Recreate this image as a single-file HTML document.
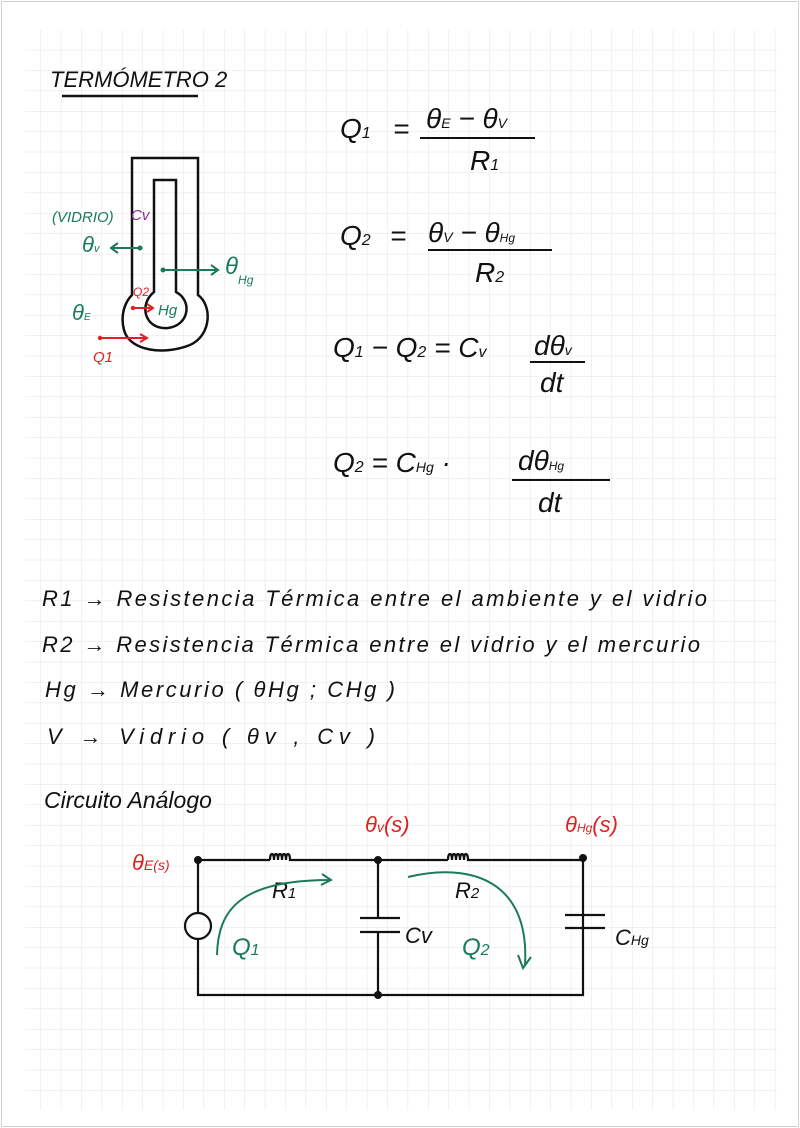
<!DOCTYPE html>
<html><head><meta charset="utf-8"><style>
body{margin:0;background:#fff}
svg{display:block}
text{font-family:"Liberation Sans",sans-serif}
</style></head><body>
<svg width="800" height="1128" viewBox="0 0 800 1128">
<defs>
<pattern id="g" x="20" y="9" width="20.4" height="20.4" patternUnits="userSpaceOnUse">
<path d="M0 0H20.4M0 0V20.4" stroke="#e3e3e3" stroke-width="1" fill="none"/>
</pattern>
</defs>
<rect x="0" y="0" width="800" height="1128" fill="#fff"/>
<rect x="1.5" y="1.5" width="797" height="1125" fill="none" stroke="#cfcfcf"/>
<rect x="25" y="30" width="752" height="1080" fill="url(#g)"/>
<g fill="#111" font-style="italic">
<text x="50" y="87" font-size="22">TERMÓMETRO 2</text>
<line x1="62" y1="96" x2="198" y2="96" stroke="#111" stroke-width="2.5"/>
</g>
<g fill="none" stroke="#111" stroke-width="2.5">
<path d="M132 295V158H198V295C212 305 212 335 190 345C165 355 130 352 124 330C120 315 125 302 132 295Z"/>
<path d="M154 292V180H176V292C192 300 190 325 168 328C145 330 138 305 154 292Z"/>
</g>
<g font-style="italic">
<text x="52" y="222" font-size="15" fill="#1a7a5a">(VIDRIO)</text>
<text x="131" y="220" font-size="15" fill="#8a2b9a">Cv</text>
<text x="82" y="252" font-size="22" fill="#1a7a5a">θ<tspan font-size="11">v</tspan></text>
<text x="72" y="320" font-size="22" fill="#1a7a5a">θ<tspan font-size="10">E</tspan></text>
<text x="225" y="274" font-size="24" fill="#1a7a5a">θ<tspan font-size="12" dy="10">Hg</tspan></text>
<text x="158" y="315" font-size="15" fill="#1a7a5a">Hg</text>
<text x="133" y="296" font-size="12" fill="#d22">Q2</text>
<text x="93" y="362" font-size="15" fill="#d22">Q1</text>
</g>
<g stroke="#1a7a5a" stroke-width="2" fill="none">
<path d="M140 248H112M118 243L111 248L118 253"/>
<path d="M163 270H218M211 265L218 270L211 275"/>
</g>
<circle cx="140" cy="248" r="2.5" fill="#1a7a5a"/><circle cx="163" cy="270" r="2.5" fill="#1a7a5a"/>
<g stroke="#d22" stroke-width="2" fill="none">
<path d="M133 308H152M147 304L153 308L147 312"/>
<path d="M100 338H146M140 334L147 338L140 342"/>
</g>
<circle cx="133" cy="308" r="2.2" fill="#d22"/><circle cx="100" cy="338" r="2.2" fill="#d22"/>
<g fill="#111" font-style="italic" font-size="28">
<text x="340" y="138">Q<tspan font-size="16">1</tspan></text><text x="393" y="138">=</text>
<text x="426" y="128">θ<tspan font-size="14">E</tspan> − θ<tspan font-size="14">V</tspan></text>
<line x1="420" y1="138" x2="535" y2="138" stroke="#111" stroke-width="2"/>
<text x="470" y="170">R<tspan font-size="16">1</tspan></text>
<text x="340" y="245">Q<tspan font-size="16">2</tspan></text><text x="390" y="245">=</text>
<text x="428" y="242">θ<tspan font-size="14">V</tspan> − θ<tspan font-size="12">Hg</tspan></text>
<line x1="428" y1="250" x2="552" y2="250" stroke="#111" stroke-width="2"/>
<text x="475" y="282">R<tspan font-size="16">2</tspan></text>
<text x="333" y="357">Q<tspan font-size="16">1</tspan> − Q<tspan font-size="16">2</tspan> = C<tspan font-size="16">v</tspan></text>
<text x="534" y="355">dθ<tspan font-size="14">v</tspan></text>
<line x1="530" y1="362" x2="585" y2="362" stroke="#111" stroke-width="2"/>
<text x="540" y="392">dt</text>
<text x="333" y="472">Q<tspan font-size="16">2</tspan> = C<tspan font-size="14">Hg</tspan> · </text>
<text x="518" y="470">dθ<tspan font-size="12">Hg</tspan></text>
<line x1="512" y1="480" x2="610" y2="480" stroke="#111" stroke-width="2"/>
<text x="538" y="512">dt</text>
</g>
<g fill="#111" font-style="italic" font-size="22">
<text x="42" y="606" textLength="665" lengthAdjust="spacing">R1 → Resistencia Térmica entre el ambiente y el vidrio</text>
<text x="42" y="652" textLength="658" lengthAdjust="spacing">R2 → Resistencia Térmica entre el vidrio y el mercurio</text>
<text x="45" y="697" textLength="350" lengthAdjust="spacing">Hg → Mercurio ( θHg ; CHg )</text>
<text x="47" y="744" textLength="328" lengthAdjust="spacing">V → Vidrio ( θv , Cv )</text>
<text x="44" y="808" font-size="23">Circuito Análogo</text>
</g>
<g stroke="#111" stroke-width="2.2" fill="none">
<path d="M198 860H270M292 860H378H448M470 860H583"/>
<path d="M270 860c0-8 4-8 4 0c0-8 4-8 4 0c0-8 4-8 4 0c0-8 4-8 4 0c0-8 4-8 4 0l2 0"/>
<path d="M448 860c0-8 4-8 4 0c0-8 4-8 4 0c0-8 4-8 4 0c0-8 4-8 4 0c0-8 4-8 4 0l2 0"/>
<path d="M198 860V912M198 940V995H583V860"/>
<circle cx="198" cy="926" r="13"/>
<path d="M378 860V918M360 918H400M360 932H400M378 932V995"/>
<path d="M565 915H605M565 928H605"/>
</g>
<g fill="#111"><circle cx="198" cy="860" r="4"/><circle cx="378" cy="860" r="4"/><circle cx="583" cy="858" r="4"/><circle cx="378" cy="995" r="4"/></g>
<g fill="#111" font-style="italic" font-size="22">
<text x="272" y="898">R<tspan font-size="15">1</tspan></text>
<text x="455" y="898">R<tspan font-size="15">2</tspan></text>
<text x="405" y="943">Cv</text>
<text x="615" y="945">C<tspan font-size="14">Hg</tspan></text>
</g>
<g fill="#d22" font-style="italic" font-size="22">
<text x="132" y="870">θ<tspan font-size="14">E(s)</tspan></text>
<text x="365" y="832">θ<tspan font-size="14">v</tspan>(s)</text>
<text x="565" y="832">θ<tspan font-size="12">Hg</tspan>(s)</text>
</g>
<g stroke="#1a7a5a" stroke-width="2" fill="none">
<path d="M217 955C218 910 240 880 330 880M322 874L331 880L321 885"/>
<path d="M408 877C470 862 530 880 525 965M518 955L523 968L531 957"/>
</g>
<g fill="#1a7a5a" font-style="italic" font-size="24">
<text x="232" y="955">Q<tspan font-size="16">1</tspan></text>
<text x="462" y="955">Q<tspan font-size="16">2</tspan></text>
</g>
</svg>
</body></html>
